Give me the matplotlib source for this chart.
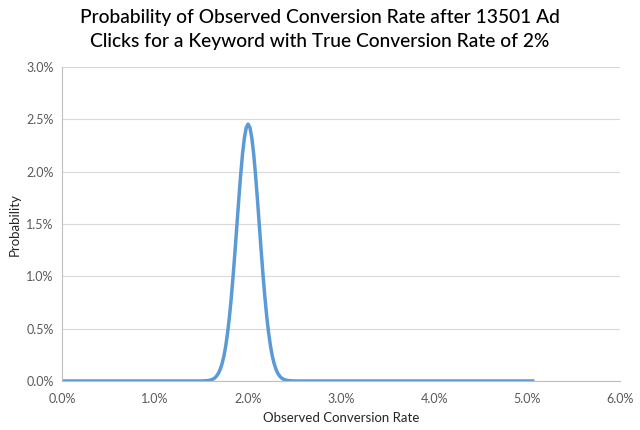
import matplotlib
matplotlib.use("Agg")
import matplotlib.pyplot as plt
from matplotlib.ticker import FuncFormatter

# Observed conversion rate (%) and probability (%)
rate_pct = [0.00, 1.50, 1.56, 1.58, 1.60, 1.62, 1.64, 1.66, 1.68, 1.70, 1.72, 1.74,
            1.76, 1.78, 1.80, 1.82, 1.84, 1.86, 1.88, 1.90, 1.92, 1.94, 1.96,
            1.98, 2.00, 2.02, 2.04, 2.06, 2.08, 2.10, 2.12, 2.14, 2.16, 2.18,
            2.20, 2.22, 2.24, 2.26, 2.28, 2.30, 2.32, 2.34, 2.36, 2.38, 2.40,
            2.42, 2.44, 2.50, 5.06]
prob_pct = [0.000, 0.000, 0.003, 0.006, 0.010, 0.017, 0.028, 0.046, 0.072, 0.111, 0.165, 0.239,
            0.338, 0.464, 0.619, 0.805, 1.017, 1.250, 1.495, 1.740, 1.969, 2.169, 2.323,
            2.421, 2.455, 2.421, 2.323, 2.169, 1.969, 1.740, 1.495, 1.250, 1.017, 0.805,
            0.619, 0.464, 0.338, 0.239, 0.165, 0.111, 0.072, 0.046, 0.028, 0.017, 0.010,
            0.006, 0.003, 0.000, 0.000]

x_ticks = [0, 1, 2, 3, 4, 5, 6]
y_ticks = [0.0, 0.5, 1.0, 1.5, 2.0, 2.5, 3.0]

title = "Probability of Observed Conversion Rate after 13501 Ad\nClicks for a Keyword with True Conversion Rate of 2%"

plt.rcParams['font.family'] = ['Lato', 'DejaVu Sans']

fig = plt.figure(figsize=(6.4, 4.3), dpi=100)
ax = fig.add_axes([0.097, 0.114, 0.872, 0.730])

ax.plot(rate_pct, prob_pct, color="#5B9BD5", linewidth=2.5, solid_joinstyle="round")

ax.set_xlim(0, 6)
ax.set_ylim(0, 3)
ax.set_xticks(x_ticks)
ax.set_yticks(y_ticks)
fmt = FuncFormatter(lambda v, p: f"{v:.1f}%")
ax.xaxis.set_major_formatter(fmt)
ax.yaxis.set_major_formatter(fmt)
ax.tick_params(length=0, labelsize=9, labelcolor="#595959")
ax.tick_params(axis="x", pad=9)
ax.tick_params(axis="y", pad=6)
ax.grid(axis="y", color="#D9D9D9", linewidth=0.8)
ax.set_axisbelow(True)
for s in ["top", "right"]:
    ax.spines[s].set_visible(False)
for s in ["left", "bottom"]:
    ax.spines[s].set_color("#BFBFBF")
    ax.spines[s].set_linewidth(0.8)

ax.set_xlabel("Observed Conversion Rate", fontsize=9.5, color="#262626", labelpad=5)
ax.set_ylabel("Probability", fontsize=9.5, color="#262626", labelpad=4)
fig.suptitle(title, fontsize=13.8, color="#000000", fontweight="medium",
             y=0.978, linespacing=1.45)

fig.savefig("out.png", dpi=100, facecolor="white")
